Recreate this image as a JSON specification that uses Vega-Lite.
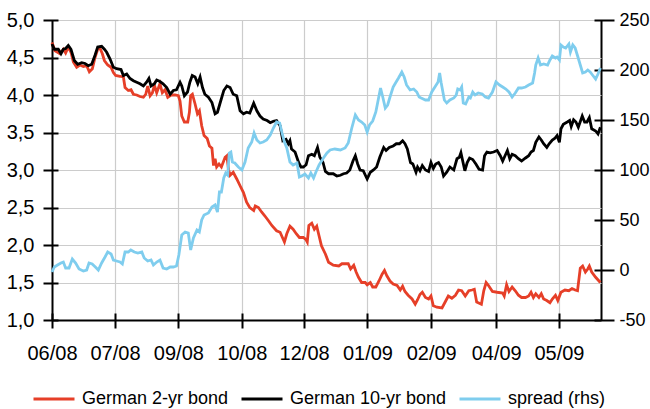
{
"$schema":"https://vega.github.io/schema/vega-lite/v6.json",
"width":549,"height":300,"autosize":"none",
"padding":{"left":52,"top":20,"right":49,"bottom":89},
"datasets":{
"y2":[{"t":0,"v":4.70},{"t":0.38,"v":4.59},{"t":1.0,"v":4.55},{"t":1.44,"v":4.61},{"t":1.73,"v":4.56},{"t":2.07,"v":4.64},{"t":2.41,"v":4.57},{"t":2.71,"v":4.44},{"t":3.13,"v":4.37},{"t":3.55,"v":4.40},{"t":3.98,"v":4.38},{"t":4.4,"v":4.39},{"t":4.74,"v":4.31},{"t":5.12,"v":4.35},{"t":5.46,"v":4.50},{"t":5.8,"v":4.61},{"t":6.1,"v":4.62},{"t":6.39,"v":4.55},{"t":6.65,"v":4.46},{"t":7.07,"v":4.40},{"t":7.49,"v":4.37},{"t":7.79,"v":4.30},{"t":8.08,"v":4.26},{"t":8.63,"v":4.25},{"t":9.06,"v":4.24},{"t":9.27,"v":4.10},{"t":9.69,"v":4.06},{"t":10.03,"v":4.07},{"t":10.33,"v":4.01},{"t":10.75,"v":4.00},{"t":11.17,"v":3.98},{"t":11.6,"v":3.97},{"t":11.9,"v":4.01},{"t":12.15,"v":4.12},{"t":12.45,"v":3.99},{"t":12.74,"v":4.03},{"t":13.0,"v":4.13},{"t":13.29,"v":4.03},{"t":13.7,"v":4.15},{"t":14.0,"v":4.03},{"t":14.35,"v":4.07},{"t":14.69,"v":3.97},{"t":15.11,"v":4.00},{"t":15.62,"v":4.00},{"t":16.04,"v":3.99},{"t":16.25,"v":3.92},{"t":16.47,"v":3.72},{"t":16.8,"v":3.64},{"t":17.23,"v":3.64},{"t":17.44,"v":3.77},{"t":17.6,"v":3.99},{"t":17.82,"v":4.01},{"t":18.16,"v":3.88},{"t":18.46,"v":3.75},{"t":18.71,"v":3.79},{"t":19.0,"v":3.59},{"t":19.3,"v":3.46},{"t":19.7,"v":3.42},{"t":19.98,"v":3.32},{"t":20.3,"v":3.29},{"t":20.5,"v":3.06},{"t":20.7,"v":3.15},{"t":20.9,"v":3.04},{"t":21.2,"v":3.08},{"t":21.5,"v":3.04},{"t":21.97,"v":3.17},{"t":22.2,"v":3.19},{"t":22.4,"v":3.01},{"t":22.6,"v":2.93},{"t":23.0,"v":2.97},{"t":23.45,"v":2.88},{"t":23.87,"v":2.79},{"t":24.3,"v":2.70},{"t":24.7,"v":2.57},{"t":25.1,"v":2.50},{"t":25.6,"v":2.46},{"t":25.8,"v":2.52},{"t":26.2,"v":2.50},{"t":26.6,"v":2.44},{"t":27.0,"v":2.39},{"t":27.5,"v":2.32},{"t":27.9,"v":2.26},{"t":28.5,"v":2.19},{"t":28.95,"v":2.17},{"t":29.5,"v":2.04},{"t":29.8,"v":2.15},{"t":30.2,"v":2.25},{"t":30.6,"v":2.21},{"t":31.0,"v":2.15},{"t":31.4,"v":2.10},{"t":31.9,"v":2.10},{"t":32.25,"v":2.07},{"t":32.4,"v":2.04},{"t":32.6,"v":2.26},{"t":32.97,"v":2.29},{"t":33.3,"v":2.21},{"t":33.6,"v":2.25},{"t":33.9,"v":2.12},{"t":34.2,"v":1.99},{"t":34.7,"v":1.88},{"t":35.1,"v":1.77},{"t":35.7,"v":1.73},{"t":36.4,"v":1.72},{"t":36.8,"v":1.75},{"t":37.2,"v":1.75},{"t":37.6,"v":1.75},{"t":37.9,"v":1.68},{"t":38.3,"v":1.73},{"t":38.6,"v":1.64},{"t":38.9,"v":1.57},{"t":39.3,"v":1.50},{"t":39.75,"v":1.50},{"t":40.0,"v":1.47},{"t":40.4,"v":1.50},{"t":40.7,"v":1.44},{"t":41.1,"v":1.44},{"t":41.5,"v":1.52},{"t":41.9,"v":1.61},{"t":42.2,"v":1.66},{"t":42.5,"v":1.59},{"t":42.9,"v":1.52},{"t":43.3,"v":1.48},{"t":43.8,"v":1.46},{"t":44.2,"v":1.40},{"t":44.5,"v":1.45},{"t":44.8,"v":1.38},{"t":45.2,"v":1.33},{"t":45.7,"v":1.28},{"t":46.1,"v":1.21},{"t":46.4,"v":1.27},{"t":46.7,"v":1.34},{"t":47.0,"v":1.37},{"t":47.4,"v":1.30},{"t":47.8,"v":1.28},{"t":48.1,"v":1.32},{"t":48.4,"v":1.19},{"t":48.85,"v":1.17},{"t":49.5,"v":1.16},{"t":49.9,"v":1.24},{"t":50.3,"v":1.32},{"t":50.75,"v":1.29},{"t":51.2,"v":1.33},{"t":51.6,"v":1.40},{"t":52.0,"v":1.39},{"t":52.45,"v":1.32},{"t":52.9,"v":1.39},{"t":53.3,"v":1.40},{"t":53.6,"v":1.41},{"t":53.9,"v":1.24},{"t":54.5,"v":1.21},{"t":54.8,"v":1.39},{"t":55.1,"v":1.50},{"t":55.4,"v":1.46},{"t":55.9,"v":1.38},{"t":56.5,"v":1.37},{"t":57.2,"v":1.36},{"t":57.4,"v":1.32},{"t":57.7,"v":1.47},{"t":58.0,"v":1.38},{"t":58.4,"v":1.44},{"t":58.8,"v":1.39},{"t":59.2,"v":1.33},{"t":59.6,"v":1.30},{"t":60.1,"v":1.30},{"t":60.5,"v":1.32},{"t":60.8,"v":1.37},{"t":61.1,"v":1.30},{"t":61.4,"v":1.35},{"t":61.8,"v":1.30},{"t":62.1,"v":1.35},{"t":62.4,"v":1.28},{"t":62.8,"v":1.26},{"t":63.2,"v":1.23},{"t":63.5,"v":1.28},{"t":63.9,"v":1.33},{"t":64.2,"v":1.26},{"t":64.6,"v":1.37},{"t":65.1,"v":1.40},{"t":65.6,"v":1.39},{"t":66.0,"v":1.42},{"t":66.4,"v":1.40},{"t":66.7,"v":1.39},{"t":67.05,"v":1.69},{"t":67.35,"v":1.72},{"t":67.7,"v":1.64},{"t":68.0,"v":1.68},{"t":68.2,"v":1.72},{"t":68.5,"v":1.64},{"t":69.0,"v":1.57},{"t":69.6,"v":1.50}],
"y10":[{"t":0,"v":4.68},{"t":0.3,"v":4.61},{"t":0.8,"v":4.61},{"t":1.14,"v":4.55},{"t":1.44,"v":4.61},{"t":1.73,"v":4.62},{"t":2.07,"v":4.66},{"t":2.41,"v":4.61},{"t":2.83,"v":4.46},{"t":3.26,"v":4.41},{"t":3.77,"v":4.43},{"t":4.19,"v":4.42},{"t":4.6,"v":4.39},{"t":5.04,"v":4.41},{"t":5.46,"v":4.53},{"t":5.8,"v":4.64},{"t":6.3,"v":4.65},{"t":6.65,"v":4.61},{"t":6.94,"v":4.57},{"t":7.37,"v":4.48},{"t":7.79,"v":4.37},{"t":8.2,"v":4.35},{"t":8.76,"v":4.34},{"t":9.06,"v":4.26},{"t":9.48,"v":4.28},{"t":9.9,"v":4.22},{"t":10.33,"v":4.19},{"t":10.75,"v":4.17},{"t":11.17,"v":4.15},{"t":11.6,"v":4.12},{"t":12.0,"v":4.17},{"t":12.3,"v":4.22},{"t":12.57,"v":4.12},{"t":13.0,"v":4.15},{"t":13.29,"v":4.20},{"t":13.7,"v":4.18},{"t":14.1,"v":4.15},{"t":14.56,"v":4.10},{"t":15.0,"v":4.01},{"t":15.4,"v":4.06},{"t":15.8,"v":4.07},{"t":16.25,"v":4.17},{"t":16.47,"v":4.12},{"t":16.8,"v":3.99},{"t":17.2,"v":4.04},{"t":17.5,"v":4.17},{"t":17.8,"v":4.26},{"t":18.16,"v":4.24},{"t":18.5,"v":4.15},{"t":18.8,"v":4.24},{"t":19.1,"v":4.10},{"t":19.4,"v":4.01},{"t":19.85,"v":3.97},{"t":20.3,"v":3.90},{"t":20.7,"v":3.75},{"t":21.0,"v":3.77},{"t":21.3,"v":3.88},{"t":21.8,"v":4.06},{"t":22.2,"v":4.12},{"t":22.6,"v":4.10},{"t":23.0,"v":4.01},{"t":23.45,"v":3.99},{"t":23.87,"v":3.79},{"t":24.3,"v":3.75},{"t":24.7,"v":3.77},{"t":25.1,"v":3.76},{"t":25.6,"v":3.89},{"t":26.0,"v":3.79},{"t":26.4,"v":3.72},{"t":26.8,"v":3.68},{"t":27.3,"v":3.66},{"t":27.7,"v":3.63},{"t":28.1,"v":3.65},{"t":28.5,"v":3.66},{"t":28.95,"v":3.59},{"t":29.3,"v":3.39},{"t":29.7,"v":3.41},{"t":30.0,"v":3.35},{"t":30.2,"v":3.39},{"t":30.4,"v":3.28},{"t":30.85,"v":3.24},{"t":31.3,"v":3.10},{"t":31.6,"v":3.04},{"t":31.9,"v":3.04},{"t":32.25,"v":3.07},{"t":32.55,"v":3.19},{"t":32.97,"v":3.21},{"t":33.3,"v":3.19},{"t":33.7,"v":3.30},{"t":34.0,"v":3.17},{"t":34.4,"v":3.10},{"t":34.7,"v":2.98},{"t":35.1,"v":2.95},{"t":35.7,"v":2.95},{"t":36.15,"v":2.92},{"t":36.6,"v":2.93},{"t":37.0,"v":2.95},{"t":37.4,"v":2.96},{"t":37.8,"v":3.00},{"t":38.2,"v":3.12},{"t":38.5,"v":3.19},{"t":38.8,"v":3.08},{"t":39.1,"v":3.00},{"t":39.5,"v":2.99},{"t":40.0,"v":2.88},{"t":40.4,"v":2.97},{"t":40.8,"v":3.00},{"t":41.2,"v":3.04},{"t":41.6,"v":3.17},{"t":42.1,"v":3.30},{"t":42.4,"v":3.26},{"t":42.8,"v":3.30},{"t":43.3,"v":3.32},{"t":43.7,"v":3.35},{"t":44.1,"v":3.35},{"t":44.5,"v":3.39},{"t":44.8,"v":3.35},{"t":45.1,"v":3.28},{"t":45.5,"v":3.10},{"t":45.8,"v":3.08},{"t":46.2,"v":2.97},{"t":46.4,"v":3.04},{"t":46.7,"v":2.99},{"t":47.0,"v":3.06},{"t":47.4,"v":3.00},{"t":47.8,"v":2.98},{"t":48.1,"v":3.10},{"t":48.4,"v":3.02},{"t":48.7,"v":3.08},{"t":49.06,"v":3.10},{"t":49.4,"v":3.04},{"t":49.7,"v":2.92},{"t":50.1,"v":2.97},{"t":50.5,"v":3.04},{"t":51.0,"v":3.00},{"t":51.4,"v":3.15},{"t":51.7,"v":3.17},{"t":51.9,"v":3.23},{"t":52.4,"v":2.99},{"t":52.7,"v":3.10},{"t":53.0,"v":3.16},{"t":53.4,"v":3.14},{"t":53.8,"v":3.08},{"t":54.2,"v":3.01},{"t":54.65,"v":3.00},{"t":54.9,"v":3.19},{"t":55.2,"v":3.24},{"t":55.6,"v":3.23},{"t":56.05,"v":3.24},{"t":56.5,"v":3.26},{"t":56.9,"v":3.19},{"t":57.2,"v":3.12},{"t":57.5,"v":3.19},{"t":57.8,"v":3.26},{"t":58.1,"v":3.15},{"t":58.4,"v":3.21},{"t":58.8,"v":3.19},{"t":59.2,"v":3.15},{"t":59.6,"v":3.12},{"t":60.1,"v":3.16},{"t":60.5,"v":3.19},{"t":60.8,"v":3.24},{"t":61.1,"v":3.26},{"t":61.4,"v":3.37},{"t":61.8,"v":3.44},{"t":62.1,"v":3.40},{"t":62.4,"v":3.35},{"t":62.8,"v":3.30},{"t":63.1,"v":3.35},{"t":63.5,"v":3.40},{"t":63.8,"v":3.42},{"t":64.1,"v":3.46},{"t":64.4,"v":3.37},{"t":64.6,"v":3.55},{"t":64.9,"v":3.61},{"t":65.4,"v":3.64},{"t":65.7,"v":3.66},{"t":65.9,"v":3.58},{"t":66.2,"v":3.67},{"t":66.5,"v":3.64},{"t":66.8,"v":3.57},{"t":67.3,"v":3.72},{"t":67.6,"v":3.64},{"t":67.9,"v":3.64},{"t":68.2,"v":3.70},{"t":68.5,"v":3.55},{"t":69.0,"v":3.52},{"t":69.3,"v":3.48},{"t":69.6,"v":3.57}],
"sp":[{"t":0,"v":-2},{"t":0.3,"v":3},{"t":0.7,"v":5},{"t":1.14,"v":7},{"t":1.44,"v":8},{"t":1.73,"v":2},{"t":2.16,"v":2},{"t":2.58,"v":11},{"t":3.0,"v":7},{"t":3.43,"v":1},{"t":3.98,"v":-1},{"t":4.4,"v":0},{"t":4.7,"v":7},{"t":5.1,"v":6},{"t":5.5,"v":3},{"t":5.88,"v":0},{"t":6.3,"v":7},{"t":6.73,"v":13},{"t":7.07,"v":18},{"t":7.5,"v":16},{"t":7.79,"v":10},{"t":8.2,"v":9},{"t":8.63,"v":8},{"t":8.93,"v":6},{"t":9.27,"v":18},{"t":9.69,"v":18},{"t":10.0,"v":20},{"t":10.45,"v":18},{"t":10.9,"v":17},{"t":11.4,"v":18},{"t":11.7,"v":12},{"t":12.15,"v":9},{"t":12.57,"v":10},{"t":12.87,"v":5},{"t":13.3,"v":8},{"t":13.7,"v":10},{"t":14.1,"v":2},{"t":14.56,"v":1},{"t":15.0,"v":3},{"t":15.4,"v":3},{"t":15.8,"v":4},{"t":16.1,"v":15},{"t":16.47,"v":35},{"t":16.9,"v":38},{"t":17.3,"v":37},{"t":17.6,"v":20},{"t":17.95,"v":32},{"t":18.4,"v":40},{"t":18.7,"v":38},{"t":19.0,"v":50},{"t":19.3,"v":55},{"t":19.85,"v":57},{"t":20.3,"v":63},{"t":20.7,"v":65},{"t":21.0,"v":58},{"t":21.25,"v":78},{"t":21.5,"v":78},{"t":21.8,"v":92},{"t":22.05,"v":97},{"t":22.3,"v":95},{"t":22.5,"v":117},{"t":22.7,"v":118},{"t":22.9,"v":108},{"t":23.2,"v":107},{"t":23.65,"v":103},{"t":24.1,"v":100},{"t":24.5,"v":108},{"t":24.9,"v":122},{"t":25.35,"v":128},{"t":25.65,"v":137},{"t":26.0,"v":130},{"t":26.4,"v":127},{"t":26.8,"v":128},{"t":27.25,"v":130},{"t":27.7,"v":135},{"t":28.1,"v":142},{"t":28.5,"v":148},{"t":28.9,"v":147},{"t":29.2,"v":137},{"t":29.5,"v":128},{"t":29.8,"v":122},{"t":30.2,"v":108},{"t":30.6,"v":105},{"t":31.1,"v":107},{"t":31.4,"v":93},{"t":31.7,"v":94},{"t":32.1,"v":96},{"t":32.55,"v":92},{"t":32.85,"v":97},{"t":33.2,"v":92},{"t":33.5,"v":98},{"t":33.9,"v":105},{"t":34.45,"v":112},{"t":34.9,"v":117},{"t":35.3,"v":120},{"t":35.9,"v":121},{"t":36.6,"v":120},{"t":37.2,"v":122},{"t":37.6,"v":127},{"t":38.05,"v":142},{"t":38.5,"v":155},{"t":38.9,"v":150},{"t":39.3,"v":148},{"t":39.7,"v":145},{"t":40.0,"v":138},{"t":40.3,"v":145},{"t":40.7,"v":149},{"t":41.1,"v":158},{"t":41.4,"v":170},{"t":41.7,"v":182},{"t":41.98,"v":173},{"t":42.3,"v":162},{"t":42.6,"v":165},{"t":42.9,"v":173},{"t":43.3,"v":183},{"t":43.6,"v":187},{"t":43.98,"v":192},{"t":44.4,"v":198},{"t":44.7,"v":193},{"t":45.0,"v":185},{"t":45.45,"v":180},{"t":45.9,"v":181},{"t":46.3,"v":178},{"t":46.6,"v":173},{"t":46.85,"v":172},{"t":47.4,"v":170},{"t":47.8,"v":170},{"t":48.2,"v":178},{"t":48.6,"v":183},{"t":49.0,"v":188},{"t":49.2,"v":197},{"t":49.4,"v":187},{"t":49.8,"v":170},{"t":50.1,"v":167},{"t":50.5,"v":170},{"t":51.0,"v":172},{"t":51.3,"v":175},{"t":51.5,"v":181},{"t":51.8,"v":180},{"t":52.0,"v":183},{"t":52.2,"v":167},{"t":52.5,"v":166},{"t":52.9,"v":173},{"t":53.1,"v":172},{"t":53.4,"v":178},{"t":53.7,"v":175},{"t":54.1,"v":177},{"t":54.6,"v":176},{"t":55.0,"v":173},{"t":55.4,"v":172},{"t":55.9,"v":178},{"t":56.35,"v":188},{"t":56.8,"v":185},{"t":57.2,"v":183},{"t":57.6,"v":181},{"t":58.0,"v":178},{"t":58.4,"v":173},{"t":58.8,"v":177},{"t":59.2,"v":182},{"t":59.6,"v":182},{"t":60.1,"v":183},{"t":60.5,"v":185},{"t":61.0,"v":187},{"t":61.25,"v":197},{"t":61.4,"v":205},{"t":61.7,"v":212},{"t":62.0,"v":205},{"t":62.4,"v":206},{"t":62.9,"v":205},{"t":63.2,"v":210},{"t":63.5,"v":214},{"t":63.9,"v":212},{"t":64.1,"v":213},{"t":64.4,"v":210},{"t":64.6,"v":225},{"t":64.9,"v":223},{"t":65.2,"v":222},{"t":65.6,"v":226},{"t":65.8,"v":218},{"t":66.1,"v":225},{"t":66.4,"v":222},{"t":66.75,"v":213},{"t":67.05,"v":205},{"t":67.35,"v":197},{"t":67.7,"v":198},{"t":68.0,"v":200},{"t":68.3,"v":198},{"t":68.6,"v":195},{"t":69.0,"v":191},{"t":69.3,"v":196},{"t":69.6,"v":202}]
},
"config":{
"font":"Liberation Sans",
"view":{"stroke":null},
"axis":{"labelColor":"black","labelFont":"Liberation Sans","tickColor":"black","title":null},
"legend":{"orient":"none","legendX":-20,"legendY":357,"direction":"horizontal","symbolType":"stroke","symbolSize":1681,"symbolStrokeWidth":3,"labelFontSize":18,"labelFont":"Liberation Sans","labelColor":"black","labelOffset":6,"columnPadding":6,"padding":0,"title":null}
},
"encoding":{"x":{"field":"t","type":"quantitative","scale":{"domain":[0,69.68],"nice":false,"zero":false},
"axis":{"orient":"bottom","offset":-7,"tickSize":15,"tickWidth":2,"domain":false,
"values":[0,8,16.04,24.09,32,40.04,48.13,56.38,64.34,69.68],
"tickColor":{"condition":{"test":"datum.value > 69","value":"transparent"},"value":"black"},
"grid":true,
"gridColor":{"condition":{"test":"datum.value < 1 || datum.value > 69","value":"black"},"value":"#cccccc"},
"gridWidth":{"condition":{"test":"datum.value < 1 || datum.value > 69","value":2},"value":1.2},
"labelExpr":"['06/08','07/08','09/08','10/08','12/08','01/09','02/09','04/09','05/09',''][round(datum.value/8)]",
"labelFontSize":20,"labelPadding":15,"labelFlush":false,"labelOverlap":false,"labelBound":false}}},
"layer":[
{"encoding":{"y":{"field":"v","type":"quantitative","scale":{"domain":[1,5],"nice":false,"zero":false},
"axis":{"orient":"left","offset":-6,"tickSize":15,"tickWidth":2,"domain":false,
"values":[1,1.5,2,2.5,3,3.5,4,4.5,5],
"grid":true,
"gridColor":{"condition":{"test":"datum.value < 1.1","value":"black"},"value":"#cccccc"},
"gridWidth":{"condition":{"test":"datum.value < 1.1","value":2},"value":1.2},
"labelExpr":"replace(format(datum.value,'.1f'),'.',',')",
"labelFontSize":20,"labelPadding":9}}},
"layer":[
{"data":{"name":"y2"},"mark":{"type":"line","strokeWidth":2.8},
"encoding":{"color":{"datum":"German 2-yr bond","scale":{"domain":["German 2-yr bond","German 10-yr bond","spread (rhs)"],"range":["#e63f28","#000000","#7fcdee"]}}}},
{"data":{"name":"y10"},"mark":{"type":"line","strokeWidth":2.8},
"encoding":{"color":{"datum":"German 10-yr bond"}}}
]},
{"data":{"name":"sp"},"mark":{"type":"line","strokeWidth":2.8},
"encoding":{"y":{"field":"v","type":"quantitative","scale":{"domain":[-50,250],"nice":false,"zero":false},
"axis":{"orient":"right","offset":-7,"tickSize":20,"tickWidth":2,"domain":false,"grid":false,
"values":[-50,0,50,100,150,200,250],
"labelExpr":"datum.value + ''",
"labelFontSize":18,"labelPadding":5}},
"color":{"datum":"spread (rhs)"}}}
],
"resolve":{"scale":{"y":"independent"}}
}
